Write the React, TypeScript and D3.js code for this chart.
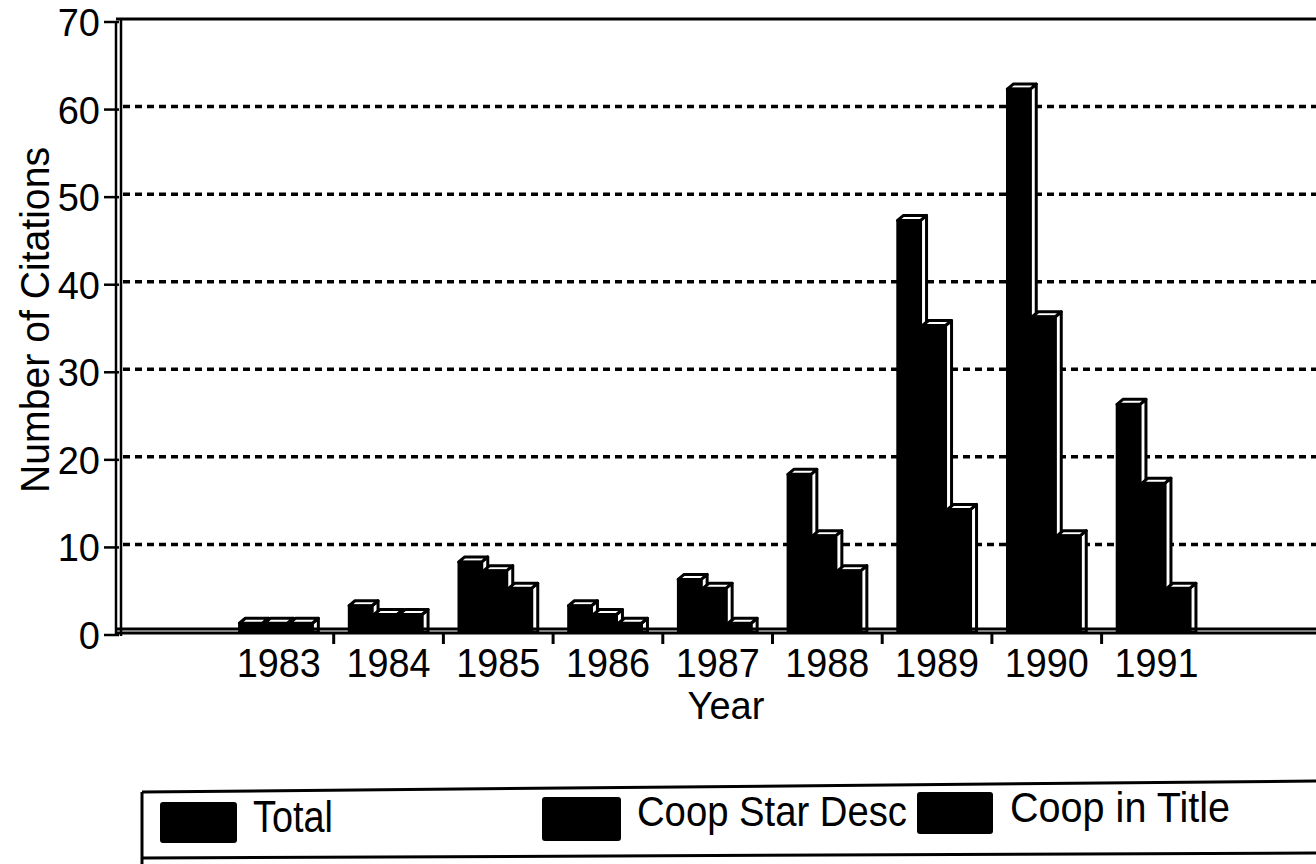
import React from 'react';
import * as d3 from 'd3';

const years = ['1983', '1984', '1985', '1986', '1987', '1988', '1989', '1990', '1991'];
const total = [1, 3, 8, 3, 6, 18, 47, 62, 26];
const coopStarDesc = [1, 2, 7, 2, 5, 11, 35, 36, 17];
const coopInTitle = [1, 2, 5, 1, 1, 7, 14, 11, 5];
const seriesNames = ['Total', 'Coop Star Desc', 'Coop in Title'];
const yTicks = [0, 10, 20, 30, 40, 50, 60, 70];

const W = 1316;
const H = 864;
const FONT = 'Liberation Sans, Arial, Helvetica, sans-serif';

export default function App() {
  const series = [total, coopStarDesc, coopInTitle];
  const x = d3.scaleBand<string>().domain(years).range([224, 224 + 9 * 109.7]).padding(0);
  const y = d3.scaleLinear().domain([0, 70]).range([632, 19]);
  const y0 = y(0);
  const barW = 23;
  const step = 25;
  const dx = 6;
  const dy = 5;
  const groupW = step * 2 + barW + dx;

  const legendItems = [
    { sx: 160, sy: 802, sw: 77, sh: 41, tx: 253, ty: 832, tl: 80, fs: 44 },
    { sx: 542, sy: 797, sw: 79, sh: 44, tx: 637, ty: 826, tl: 270, fs: 42 },
    { sx: 917, sy: 792, sw: 76, sh: 42, tx: 1010, ty: 822, tl: 220, fs: 43 },
  ];

  return (
    <svg
      width={W}
      height={H}
      style={{ position: 'absolute', left: 0, top: 0, background: '#fff' }}
      fontFamily={FONT}
    >
      <rect x={0} y={0} width={W} height={H} fill="#fff" />
      {/* gridlines */}
      {yTicks.filter(t => t > 0 && t < 70).map(t => (
        <line key={'g' + t} x1={123} x2={W} y1={y(t)} y2={y(t)} stroke="#000" strokeWidth={3.5} strokeDasharray="7 5" />
      ))}
      {/* top border */}
      <line x1={116} x2={W} y1={y(70)} y2={y(70)} stroke="#000" strokeWidth={3} />
      {/* y axis double line */}
      <line x1={116} x2={116} y1={y(70) + 2} y2={y0 + 4} stroke="#000" strokeWidth={2.5} />
      <line x1={121} x2={121} y1={y(70) - 1} y2={y0 + 4} stroke="#000" strokeWidth={2.5} />
      {yTicks.map(t => (
        <g key={'t' + t}>
          <line x1={104} x2={119} y1={y(t) + 3} y2={y(t) + 3} stroke="#000" strokeWidth={2.5} />
          <text x={100} y={y(t) + 4} textAnchor="end" dominantBaseline="central" fontSize={38}>{t}</text>
        </g>
      ))}
      {/* bars */}
      {years.map((yr, i) => {
        const c = (x(yr) as number) + x.bandwidth() / 2;
        const gx = c - groupW / 2;
        return (
          <g key={yr}>
            {series.map((s, j) => {
              const v = s[i];
              const x0 = gx + j * step;
              const yv = y(v);
              const top = `${x0},${yv} ${x0 + dx},${yv - dy} ${x0 + barW + dx},${yv - dy} ${x0 + barW},${yv}`;
              const side = `${x0 + barW},${yv} ${x0 + barW + dx},${yv - dy} ${x0 + barW + dx},${y0} ${x0 + barW},${y0}`;
              return (
                <g key={seriesNames[j]}>
                  <polygon points={side} fill="#fff" stroke="#000" strokeWidth={3} strokeLinejoin="round" />
                  <polygon points={top} fill="#fff" stroke="#000" strokeWidth={3} strokeLinejoin="round" />
                  <rect x={x0} y={yv} width={barW} height={y0 - yv} fill="#000" stroke="#000" strokeWidth={2.5} strokeLinejoin="round" />
                </g>
              );
            })}
          </g>
        );
      })}
      {/* baseline */}
      <line x1={116} x2={W} y1={y0 - 3} y2={y0 - 3} stroke="#000" strokeWidth={3} />
      <line x1={116} x2={W} y1={y0 + 1} y2={y0 + 1} stroke="#000" strokeWidth={3} />
      {/* x ticks */}
      {years.slice(1).map(yr => (
        <line key={'xt' + yr} x1={x(yr) as number} x2={x(yr) as number} y1={y0} y2={y0 + 12} stroke="#000" strokeWidth={3} />
      ))}
      {years.map(yr => (
        <text key={'xl' + yr} x={(x(yr) as number) + x.bandwidth() / 2} y={677} textAnchor="middle" fontSize={40} textLength={84} lengthAdjust="spacingAndGlyphs">{yr}</text>
      ))}
      <text x={726} y={719} textAnchor="middle" fontSize={38}>Year</text>
      <text transform="translate(49,320) rotate(-90)" textAnchor="middle" fontSize={40} textLength={346} lengthAdjust="spacingAndGlyphs">Number of Citations</text>
      {/* legend box */}
      <line x1={142} y1={792} x2={W} y2={781} stroke="#000" strokeWidth={3} />
      <line x1={142} y1={858} x2={W} y2={853} stroke="#000" strokeWidth={3} />
      <line x1={142} y1={792} x2={142} y2={H} stroke="#000" strokeWidth={3} />
      {legendItems.map((it, j) => (
        <g key={'lg' + j}>
          <rect x={it.sx} y={it.sy} width={it.sw} height={it.sh} rx={3} fill="#000" />
          <text x={it.tx} y={it.ty} fontSize={it.fs} textLength={it.tl} lengthAdjust="spacingAndGlyphs">{seriesNames[j]}</text>
        </g>
      ))}
    </svg>
  );
}
